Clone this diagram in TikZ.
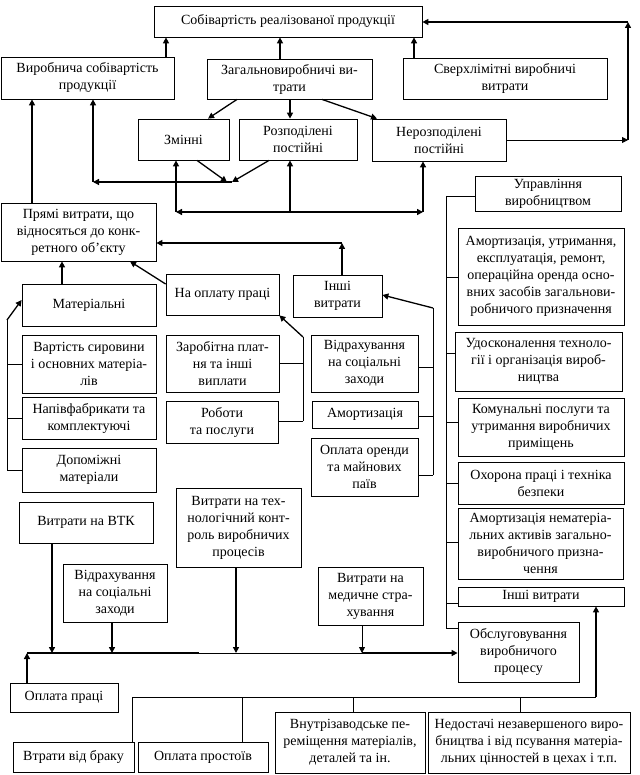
\documentclass[tikz,border=0pt]{standalone}
\usepackage{fontspec}
\setmainfont{Liberation Serif}
\usetikzlibrary{arrows.meta}
\newcommand\mybox[7][]{%
  \pgfmathsetmacro\bw{#5-#3}\pgfmathsetmacro\bh{#6-#4}%
  \pgfmathsetmacro\bcx{(#3+#5)/2}\pgfmathsetmacro\bcy{(#4+#6)/2}%
  \node[box,minimum width=\bw pt,minimum height=\bh pt,#1] (#2) at (\bcx,\bcy) {#7};}
\begin{document}
\begin{tikzpicture}[x=1pt,y=-1pt,
  box/.style={draw,line width=0.8pt,inner sep=0pt,align=center,font=\fontsize{14}{17}\selectfont},
  ar/.style={-{Triangle[length=6pt,width=6pt]}},
  ln1/.style={line width=0.8pt},
  ln2/.style={line width=1.3pt},
  ln3/.style={line width=2.4pt}]
\fill[white] (0,0) rectangle (639,775);
\useasboundingbox (0,0) rectangle (639,775);
% boxes
\mybox{sob}{154}{6}{422}{37}{Собівартість реалізованої продукції}
\mybox{vyr}{1}{57}{174}{99}{Виробнича собівартість\\продукції}
\mybox{zag}{207}{59}{372}{99}{Загальновиробничі ви-\\трати}
\mybox{sver}{403}{58}{607}{99}{Сверхлімітні виробничі\\витрати}
\mybox{zmin}{138}{119}{229}{160}{Змінні}
\mybox{rozp}{239}{119}{357}{160}{Розподілені\\постійні}
\mybox{neroz}{372}{119}{506}{161}{Нерозподілені\\постійні}
\mybox{pryami}{1}{203}{156}{261}{Прямі витрати, що\\відносяться до конк-\\ретного об’єкту}
\mybox{mat}{22}{284}{156}{326}{Матеріальні}
\mybox{naopl}{166}{274}{279}{315}{На оплату праці}
\mybox{inshi}{293}{275}{382}{317}{Інші\\витрати}
\mybox{varti}{22}{335}{156}{393}{Вартість сировини\\і основних матеріа-\\лів}
\mybox{napiv}{22}{397}{156}{439}{Напівфабрикати та\\комплектуючі}
\mybox{dopom}{22}{448}{156}{492}{Допоміжні\\матеріали}
\mybox{zarob}{166}{335}{279}{392}{Заробітна плат-\\ня та інші\\виплати}
\mybox{roboty}{166}{401}{278}{443}{Роботи\\та послуги}
\mybox{vidr1}{311}{335}{418}{392}{Відрахування\\на соціальні\\заходи}
\mybox{amort1}{312}{401}{418}{428}{Амортизація}
\mybox{orenda}{311}{438}{418}{496}{Оплата оренди\\та майнових\\паїв}
\mybox{uprav}{475}{176}{621}{211}{Управління\\виробництвом}
\mybox{amort2}{458}{228}{624}{325}{Амортизація, утримання,\\експлуатація, ремонт,\\операційна оренда осно-\\вних засобів загальнови-\\робничого призначення}
\mybox{udos}{455}{332}{622}{391}{Удосконалення техноло-\\гії і організація вироб-\\ництва}
\mybox{komun}{458}{398}{624}{456}{Комунальні послуги та\\утримання виробничих\\приміщень}
\mybox{ohor}{458}{462}{624}{504}{Охорона праці і техніка\\безпеки}
\mybox{amort3}{458}{508}{623}{579}{Амортизація нематеріа-\\льних активів загально-\\виробничого призна-\\чення}
\mybox{inshi2}{458}{587}{624}{606}{Інші витрати}
\mybox{obsl}{458}{622}{579}{682}{Обслуговування\\виробничого\\процесу}
\mybox{vtk}{19}{502}{153}{543}{Витрати на ВТК}
\mybox{vidr2}{63}{564}{167}{622}{Відрахування\\на соціальні\\заходи}
\mybox{tehn}{176}{488}{301}{567}{Витрати на тех-\\нологічний конт-\\роль виробничих\\процесів}
\mybox{med}{318}{567}{423}{625}{Витрати на\\медичне стра-\\хування}
\mybox{oplata}{10}{683}{118}{712}{Оплата праці}
\mybox{brak}{13}{742}{134}{772}{Втрати від браку}
\mybox{prost}{138}{742}{268}{772}{Оплата простоїв}
\mybox{vnutr}{275}{712}{425}{773}{Внутрізаводське пе-\\реміщення матеріалів,\\деталей та ін.}
\mybox{nedos}{428}{712}{630}{773}{Недостачі незавершеного виро-\\бництва і від псування матеріа-\\льних цінностей в цехах і т.п.}
% top level arrows
\draw[ln3,ar] (166,0 |- vyr.north) -- (166,0 |- sob.south);
\draw[ln3,ar] (280,0 |- zag.north) -- (280,0 |- sob.south);
\draw[ln3,ar] (414,0 |- sver.north) -- (414,0 |- sob.south);
\draw[ln2,ar] (237,0 |- zag.south) -- (208,0 |- zmin.north);
\draw[ln3,ar] (290,0 |- zag.south) -- (290,0 |- rozp.north);
\draw[ln2,ar] (322,0 |- zag.south) -- (377,0 |- neroz.north);
% right loop
\coordinate (rb) at (628,140);
\coordinate (rt) at (628,22);
\draw[ln1,ar] (neroz.east |- rb) -- (rb);
\draw[ln3,ar] (rb) -- (rt);
\draw[ln3,ar] (rt) -- (rt -| sob.east);
% merge to vyr
\coordinate (m1) at (227,182);
\coordinate (m2) at (232,182);
\coordinate (mL) at (93,182);
\draw[ln2,ar] (197,0 |- zmin.south) -- (m1);
\draw[ln2,ar] (269,0 |- rozp.south) -- (m2);
\draw[ln2,ar] (m2) -- (mL);
\draw[ln3,ar] (mL) -- (mL |- vyr.south);
% distribution line
\coordinate (dL) at (176,212);
\coordinate (dM) at (290,212);
\coordinate (dR) at (423,212);
\draw[ln3,ar] (dM) -- (dL);
\draw[ln3,ar] (dM) -- (dR);
\draw[ln3,ar] (dL) -- (dL |- zmin.south);
\draw[ln3,ar] (dM) -- (dM |- rozp.south);
\draw[ln3,ar] (dR) -- (dR |- neroz.south);
% direct costs
\draw[ln3,ar] (32,0 |- pryami.north) -- (32,0 |- vyr.south);
\coordinate (ic) at (342,243);
\draw[ln3,ar] (ic |- inshi.north) -- (ic);
\draw[ln3,ar] (ic) -- (ic -| pryami.east);
\draw[ln3,ar] (62,0 |- mat.north) -- (62,0 |- pryami.south);
\draw[ln2,ar] (naopl.west |- 0,284) -- (130,0 |- pryami.south);
% left bracket
\coordinate (lb1) at (7,320);
\coordinate (lb2) at (7,470);
\draw[ln1] (lb2) -- (lb1);
\draw[ln2,ar] (lb1) -- (mat.west |- 0,300);
\draw[ln1] (7,0 |- varti.west) -- (varti.west);
\draw[ln1] (7,0 |- napiv.west) -- (napiv.west);
\draw[ln1] (lb2) -- (lb2 -| dopom.west);
% middle bracket
\coordinate (cb1) at (303,337);
\coordinate (cb2) at (303,421);
\draw[ln1] (cb2) -- (cb1);
\draw[ln2,ar] (cb1) -- (naopl.south east);
\draw[ln1] (zarob.east) -- (zarob.east -| cb1);
\draw[ln1] (cb2 -| roboty.east) -- (cb2);
% mid-right bracket
\coordinate (ob1) at (433,308);
\coordinate (ob2) at (433,475);
\draw[ln1] (ob2) -- (ob1);
\draw[ln2,ar] (ob1) -- (inshi.east |- 0,295);
\draw[ln1] (vidr1.east |- 0,367) -- (433,367);
\draw[ln1] (amort1.east |- 0,416) -- (433,416);
\draw[ln1] (ob2 -| orenda.east) -- (ob2);
% right bracket
\coordinate (rb1) at (446,196);
\coordinate (rb2) at (446,628);
\draw[ln1] (rb1) -- (rb2);
\draw[ln1] (rb1) -- (rb1 -| uprav.west);
\draw[ln1] (446,277) -- (amort2.west |- 0,277);
\draw[ln1] (446,353) -- (udos.west |- 0,353);
\draw[ln1] (446,422) -- (komun.west |- 0,422);
\draw[ln1] (446,483) -- (ohor.west |- 0,483);
\draw[ln1] (446,542) -- (amort3.west |- 0,542);
\draw[ln1] (446,603) -- (inshi2.west |- 0,603);
\draw[ln1] (rb2) -- (rb2 -| obsl.west);
% bottom bracket
\coordinate (bb1) at (132,697);
\coordinate (bb2) at (596,697);
\draw[ln1] (bb1) -- (bb2);
\draw[ln1] (bb1) -- (bb1 |- brak.north);
\draw[ln1] (242,697) -- (242,0 |- prost.north);
\draw[ln1] (353,697) -- (353,0 |- vnutr.north);
\draw[ln1] (520,697) -- (520,0 |- nedos.north);
\draw[ln3,ar] (bb2) -- (bb2 |- inshi2.south);
% collecting line
\coordinate (hL) at (27,653);
\coordinate (h1) at (199,653);
\coordinate (h2) at (362,653);
\draw[ln3] (hL) -- (h1);
\draw[ln1] (h1) -- (h2);
\draw[ln3,ar] (h2) -- (h2 -| obsl.west);
\draw[ln3,ar] (oplata.north -| hL) -- (hL);
\draw[ln3,ar] (52,0 |- vtk.south) -- (52,653);
\draw[ln3,ar] (112,0 |- vidr2.south) -- (112,653);
\draw[ln3,ar] (236,0 |- tehn.south) -- (236,653);
\draw[ln1,ar] (362,0 |- med.south) -- (h2);
\end{tikzpicture}
\end{document}
